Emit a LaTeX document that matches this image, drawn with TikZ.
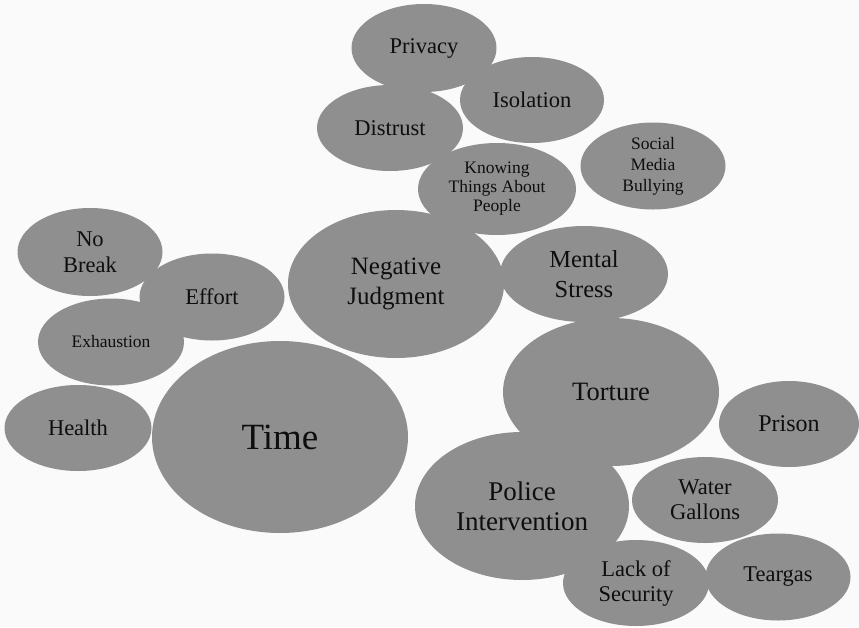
\documentclass[tikz,border=0pt]{standalone}
\usepackage{fontspec}
\setmainfont{Liberation Serif}
\usetikzlibrary{shapes.geometric}
\definecolor{bubblegray}{HTML}{8F8F8F}
\definecolor{labelink}{HTML}{0E0E0E}
\definecolor{paper}{HTML}{FAFAFA}
\newcommand{\fsz}[2]{\fontsize{#1pt}{#2pt}\selectfont}
\begin{document}
\begin{tikzpicture}[x=1pt,y=-1pt,
  bubble/.style 2 args={ellipse, fill=bubblegray, draw=none, inner sep=0pt,
    minimum width=#1, minimum height=#2, text=labelink, align=center},
  tiny/.style={font=\fsz{17.5}{19}},
  small/.style={font=\fsz{22.5}{25}}]
  % page
  \fill[paper] (0,0) rectangle (859,627);
  \useasboundingbox (0,0) rectangle (859,627);

  % upper cluster
  \node[bubble={145pt}{88pt}, small] (privacy) at (424,48) {Privacy};
  \node[bubble={144pt}{86pt}, small] (isolation) at (532,100) {Isolation};
  \node[bubble={146pt}{86pt}, small] (distrust) at (390,128) {Distrust};
  \node[bubble={158pt}{92pt}, tiny] (knowing) at (497,189) {Knowing\\Things About\\People};
  \node[bubble={145pt}{87pt}, font=\fsz{17.5}{21}] (social) at (653,166) {Social\\Media\\Bullying};
  \node[bubble={216pt}{148pt}, font=\fsz{25}{30}] (judgment) at (396,284) {Negative\\Judgment};
  \node[bubble={168pt}{96pt}, font=\fsz{24.5}{30}] (stress) at (584,274) {Mental\\Stress};

  % left cluster
  \node[bubble={145pt}{88pt}, font=\fsz{22.5}{26}] (nobreak) at (90,252) {No\\Break};
  \node[bubble={145pt}{87pt}, small] (effort) at (212,297) {Effort};
  \node[bubble={146pt}{87pt}, tiny] (exhaustion) at (111,342) {Exhaustion};
  \node[bubble={147pt}{86pt}, small] (health) at (78,428) {Health};
  \node[bubble={256pt}{192pt}, font=\fsz{37}{40}] (time) at (280,437) {Time};

  % lower right cluster
  \node[bubble={216pt}{148pt}, font=\fsz{26.5}{30}] (torture) at (611,392) {Torture};
  \node[bubble={140pt}{86pt}, font=\fsz{24}{26}] (prison) at (789,424) {Prison};
  \node[bubble={214pt}{148pt}, font=\fsz{27}{30}] (police) at (522,506) {Police\\Intervention};
  \node[bubble={146pt}{86pt}, small] (water) at (705,500) {Water\\Gallons};
  \node[bubble={146pt}{86pt}, small] (lack) at (636,583) {Lack of\\Security};
  \node[bubble={145pt}{87pt}, small] (teargas) at (778,577) {Teargas};
\end{tikzpicture}
\end{document}
